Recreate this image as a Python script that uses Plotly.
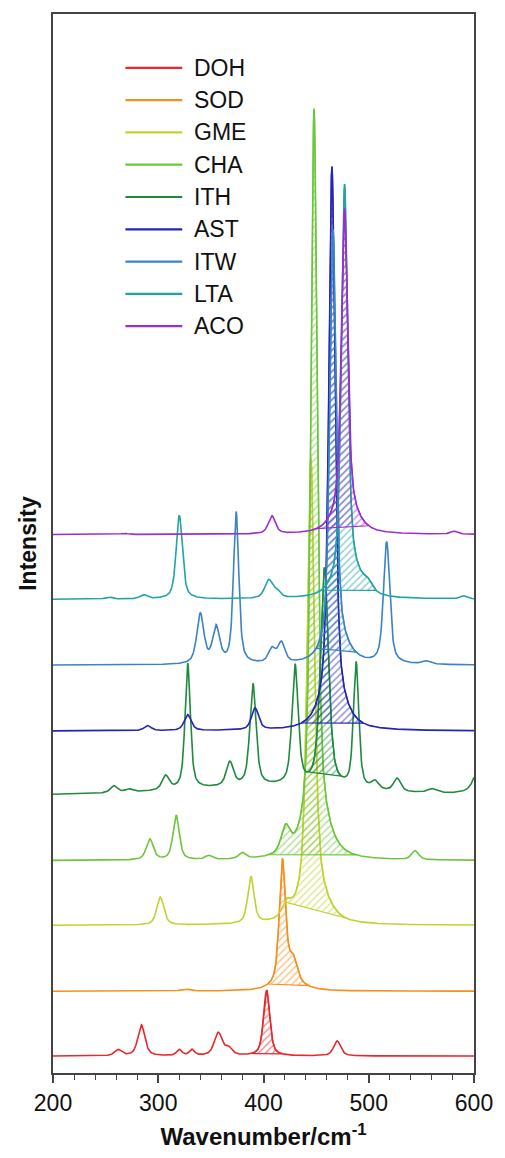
import numpy as np
import plotly.graph_objects as go

# Wavenumber grid (cm^-1)
wavenumber = np.arange(200.0, 600.01, 0.5)

names = ["DOH", "SOD", "GME", "CHA", "ITH", "AST", "ITW", "LTA", "ACO"]
colors = ["#e8282b", "#f5901e", "#c4d132", "#6cc63c", "#1f8a3e",
          "#2424b8", "#3a84c6", "#23a3a3", "#9a2fd0"]

# Vertical offset of each stacked spectrum (a.u.)
offsets = [17, 82, 148, 213, 278, 343, 409, 475, 540]

# Band lists: (position cm^-1, height a.u., FWHM cm^-1)
bands_doh = [(262, 6, 8), (284, 31, 8), (320, 6, 6), (332, 6, 6), (357, 23, 9),
             (367, 7, 8), (403, 66, 7), (470, 15, 8)]
bands_sod = [(326, 2, 10), (418, 124, 7), (428, 22, 9), (425, 8, 30)]
bands_gme = [(302, 28, 8), (388, 47, 7), (422, 14, 10), (445, 440, 8), (448, 30, 28)]
bands_cha = [(292, 21, 8), (317, 45, 7), (348, 4, 8), (380, 6, 8), (421, 26, 10),
             (448, 720, 7), (451, 35, 26), (544, 9, 8)]
bands_ith = [(258, 7, 8), (272, 3, 8), (307, 14, 8), (328, 126, 6), (368, 24, 8),
             (390, 102, 7), (430, 120, 7), (458, 220, 9), (488, 126, 6), (506, 8, 8),
             (527, 13, 8), (560, 4, 10), (608, 40, 14), (400, 9, 200)]
bands_ast = [(290, 5, 8), (328, 16, 8), (392, 22, 8), (465, 540, 7), (466, 26, 28)]
bands_itw = [(340, 50, 8), (355, 36, 8), (374, 152, 6), (408, 14, 8), (417, 20, 8),
             (466, 420, 7), (470, 18, 26), (517, 122, 7), (555, 3, 10)]
bands_lta = [(253, 2, 8), (286, 4, 8), (320, 84, 7), (405, 18, 9), (413, 6, 8),
             (477, 395, 7), (482, 24, 26), (499, 8, 10), (590, 3, 8)]
bands_aco = [(268, 1, 8), (408, 18, 8), (477, 305, 7), (478, 22, 26), (581, 3, 8)]

all_bands = [bands_doh, bands_sod, bands_gme, bands_cha, bands_ith,
             bands_ast, bands_itw, bands_lta, bands_aco]

# Integration window of the main band of each framework (cm^-1)
main_band_window = [(388, 418), (404, 443), (420, 479), (405, 488), (442, 474),
                    (436, 495), (450, 488), (455, 507), (450, 500)]


def pseudo_voigt(x, center, height, fwhm, eta=0.6):
    d = (x - center) / fwhm
    lor = 1.0 / (1.0 + 4.0 * d ** 2)
    gau = np.exp(-4.0 * np.log(2.0) * d ** 2)
    return height * (eta * lor + (1.0 - eta) * gau)


def spectrum(bands, offset):
    y = np.full_like(wavenumber, float(offset))
    for c, h, w in bands:
        y += pseudo_voigt(wavenumber, c, h, w)
    return y


fig = go.Figure()

for name, color, bands, off, (x1, x2) in zip(names, colors, all_bands, offsets, main_band_window):
    y = spectrum(bands, off)
    # hatched area between the main band and its local straight baseline
    m = (wavenumber >= x1) & (wavenumber <= x2)
    xs, ys = wavenumber[m], y[m]
    poly_x = np.concatenate([xs, [xs[-1], xs[0]]])
    poly_y = np.concatenate([ys, [ys[-1], ys[0]]])
    fig.add_trace(go.Scatter(
        x=poly_x, y=poly_y, mode="lines", fill="toself",
        line=dict(color=color, width=1.2),
        fillcolor="rgba(0,0,0,0)",
        fillpattern=dict(shape="/", fgcolor=color, bgcolor="rgba(0,0,0,0)",
                         size=5, solidity=0.3),
        hoverinfo="skip", showlegend=False))
    fig.add_trace(go.Scatter(
        x=wavenumber, y=y, mode="lines", name=name,
        line=dict(color=color, width=1.6), showlegend=False))

# Legend drawn as line keys with labels
leg_x0, leg_x1, leg_tx = 0.172, 0.307, 0.330
leg_top, leg_step = 0.9492, 0.0305
for i, (name, color) in enumerate(zip(names, colors)):
    yy = leg_top - i * leg_step
    fig.add_shape(type="line", xref="paper", yref="paper",
                  x0=leg_x0, x1=leg_x1, y0=yy, y1=yy,
                  line=dict(color=color, width=2.2))
    fig.add_annotation(xref="paper", yref="paper", x=leg_tx, y=yy,
                       text=name, showarrow=False, xanchor="left", yanchor="middle",
                       font=dict(size=23, color="#111111"))

axis_color = "#444444"
fig.update_xaxes(
    range=[200, 600], tickvals=[200, 300, 400, 500, 600],
    ticks="outside", ticklen=8, tickwidth=1.5, tickcolor=axis_color,
    minor=dict(dtick=20, ticks="outside", ticklen=5, tickwidth=1.2, tickcolor=axis_color),
    showline=True, linecolor=axis_color, linewidth=2, mirror=True,
    showgrid=False, zeroline=False,
    tickfont=dict(size=23, color="#111111"),
    title=dict(text="<b>Wavenumber/cm<sup>-1</sup></b>", font=dict(size=24, color="#111111"),
               standoff=14))
fig.update_yaxes(
    range=[0, 1062], showticklabels=False, ticks="",
    showline=True, linecolor=axis_color, linewidth=2, mirror=True,
    showgrid=False, zeroline=False,
    title=dict(text="<b>Intensity</b>", font=dict(size=23, color="#111111"), standoff=8))

fig.update_layout(
    width=505, height=1158,
    margin=dict(l=53, r=22, t=13, b=83),
    paper_bgcolor="white", plot_bgcolor="white",
    font=dict(family="Arial, Liberation Sans, sans-serif"),
    showlegend=False)

fig.write_html("out.html")
